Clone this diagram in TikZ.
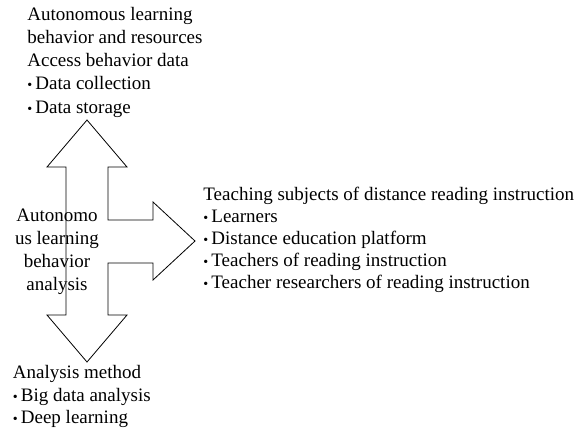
\documentclass[tikz,border=0pt]{standalone}
\usepackage{fontspec}
\setmainfont{Liberation Serif}
\newcommand{\bul}{\makebox[8pt][l]{\fontsize{14}{14}\selectfont •}}
\begin{document}
\begin{tikzpicture}[x=1pt, y=-1pt, line width=0.8pt,
	label text/.style={align=left, inner sep=0pt, anchor=base west, font=\fontsize{19}{#1}\selectfont},
	label text/.default=22.7]
	\useasboundingbox (0,0) rectangle (581,432);

	% Texts (anchored at the baseline of the last line)
	\node[label text=23.2] (access) at (27,113) {Autonomous learning\\behavior and resources\\Access behavior data\\\bul Data collection\\\bul Data storage};
	\node[label text=22] (subjects) at (203,288.5) {Teaching subjects of distance reading instruction\\\bul Learners\\\bul Distance education platform\\\bul Teachers of reading instruction\\\bul Teacher researchers of reading instruction};
	\node[label text=22.5] (method) at (12.5,423.5) {Analysis method\\\bul Big data analysis\\\bul Deep learning};
	\node[label text=22.8, align=center, anchor=base] (analysis) at (57,290) {Autonomo\\us learning\\behavior\\analysis};

	% Three-way arrow
	\draw[line join=miter] (87,120) -- (127,167) -- (108,167) -- (108,220) -- (153,220) -- (153,202)
		-- (195,241) -- (153,280) -- (153,263) -- (108,263) -- (108,315) -- (127,315)
		-- (87,362) -- (47,315) -- (66,315) -- (66,167) -- (47,167) -- cycle;
\end{tikzpicture}
\end{document}
